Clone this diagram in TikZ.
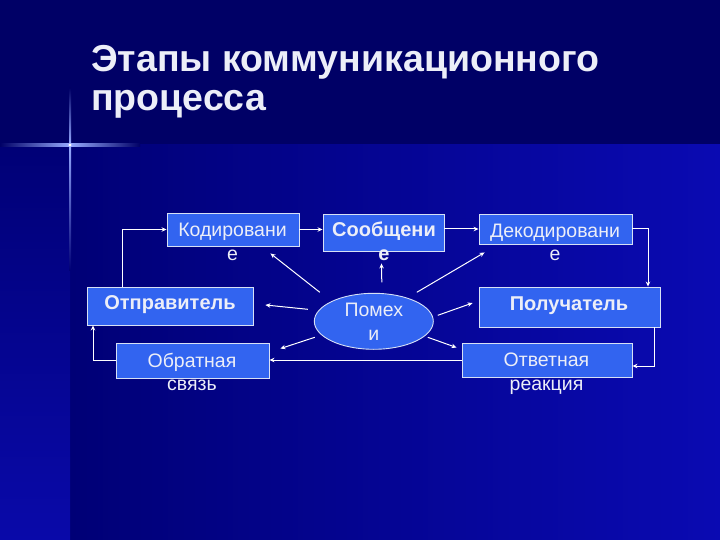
\documentclass[tikz,border=0pt]{standalone}
\usepackage{fontspec}
\setmainfont{Liberation Sans}
\usetikzlibrary{shapes.geometric, arrows.meta, positioning}

\definecolor{topnavy}{RGB}{0,0,102}
\definecolor{lowdark}{RGB}{0,0,118}
\definecolor{lowbright}{RGB}{10,10,178}
\definecolor{boxblue}{RGB}{50,100,240}
\definecolor{boxline}{RGB}{215,225,245}
\definecolor{textwhite}{RGB}{236,238,248}
\definecolor{glow}{RGB}{150,170,255}

\begin{document}
\begin{tikzpicture}[
        x=1pt, y=-1pt,
        box/.style={draw=boxline, fill=boxblue, line width=0.9pt, rectangle, inner sep=0pt},
        noise/.style={draw=boxline, fill=boxblue, line width=0.9pt, ellipse, inner sep=0pt, minimum width=119pt, minimum height=56pt},
        lbl/.style={text=textwhite, align=center, inner sep=0pt, font=\fontsize{19.5}{23.5}\selectfont},
        lblbold/.style={lbl, font=\fontsize{20}{23.5}\selectfont\bfseries},
        title/.style={text=textwhite, align=left, inner sep=0pt, font=\fontsize{37.5}{38.5}\selectfont\bfseries},
        arrow/.style={-{Stealth[length=5pt, width=4.5pt]}, line width=1pt, draw=white}
    ]
        \useasboundingbox (0,0) rectangle (720,540);

        % 1. Fundo
        \fill[topnavy] (0,0) rectangle (720,145);
        \shade[left color=lowdark, right color=lowbright] (70,145) rectangle (720,540);
        \shade[top color=lowdark, bottom color=lowbright!95!black] (0,145) rectangle (70,540);
        \shade[left color=topnavy, right color=topnavy, middle color=glow] (0,144) rectangle (140,146.5);
        \shade[top color=topnavy, bottom color=glow] (69,88) rectangle (71.2,145);
        \shade[top color=glow, bottom color=lowdark] (69,145) rectangle (71.2,270);
        \fill[white] (70,145) circle (1.6);

        % 2. Titulo (a ancora base fica na ultima linha)
        \node[title, anchor=base west] (title) at (91,110.2) {Этапы коммуникационного\\процесса};

        % 3. Caixas
        \node[box, minimum width=132pt, minimum height=33pt] (kod) at (233,229.5) {};
        \node[box, minimum width=121pt, minimum height=37pt] (soob) at (383.5,232.5) {};
        \node[box, minimum width=153pt, minimum height=30pt] (dekod) at (555.5,229) {};
        \node[box, minimum width=166pt, minimum height=38pt] (otpr) at (170,306) {};
        \node[box, minimum width=181pt, minimum height=40pt] (polu) at (569.5,307) {};
        \node[box, minimum width=153pt, minimum height=35pt] (obr) at (192.5,360.5) {};
        \node[box, minimum width=170pt, minimum height=34pt] (otv) at (547,360) {};
        \node[noise] (pom) at (373.8,321.3) {};

        % Textos (a palavra continua abaixo da caixa)
        \node[lbl, anchor=base] (kodtxt) at ([shift={(-0.5,30.5)}]kod.center) {Кодировани\\е};
        \node[lblbold, anchor=base] (soobtxt) at ([shift={(0.5,27.5)}]soob.center) {Сообщени\\е};
        \node[lbl, anchor=base] (dekodtxt) at ([shift={(-0.5,31.5)}]dekod.center) {Декодировани\\е};
        \node[lblbold, anchor=base] (otprtxt) at ([shift={(0,3)}]otpr.center) {Отправитель};
        \node[lblbold, anchor=base] (polutxt) at ([shift={(-0.5,3)}]polu.center) {Получатель};
        \node[lbl, anchor=base] (obrtxt) at ([shift={(-0.5,30)}]obr.center) {Обратная\\связь};
        \node[lbl, anchor=base] (otvtxt) at ([shift={(-0.5,30)}]otv.center) {Ответная\\реакция};
        \node[lbl, anchor=base] (pomtxt) at ([shift={(0,19)}]pom.center) {Помех\\и};

        % 4. Ciclo principal
        \draw[arrow] ([shift={(-48,0)}]otpr.north) |- (kod.west);
        \draw[arrow] (kod.east) -- (kod.east -| soob.west);
        \draw[arrow] (dekod.west -| soob.east) -- (dekod.west);
        \draw[arrow] (dekod.east) -| ([shift={(78.5,0)}]polu.north);
        \draw[arrow] ([shift={(84.5,0)}]polu.south) |- ([shift={(0,6)}]otv.east);
        \draw[arrow] (otv.west) -- (otv.west -| obr.east);
        \draw[arrow] (obr.west) -| ([shift={(-77,0)}]otpr.south);

        % 5. Ruido sobre cada etapa
        \draw[arrow] ([shift={(-54,-29)}]pom.center) -- ([shift={(-29,7)}]kod.south east);
        \draw[arrow] ([shift={(-66,-12)}]pom.center) -- ([shift={(12,-1)}]otpr.east);
        \draw[arrow] ([shift={(-59,16)}]pom.center) -- ([shift={(11,6)}]obr.north east);
        \draw[arrow] ([shift={(8,-39)}]pom.center) -- ([shift={(-2,12)}]soob.south);
        \draw[arrow] ([shift={(43,-29)}]pom.center) -- ([shift={(6,8)}]dekod.south west);
        \draw[arrow] ([shift={(64,-6)}]pom.center) -- ([shift={(-6,-4)}]polu.west);
        \draw[arrow] ([shift={(54,16)}]pom.center) -- ([shift={(-5,5)}]otv.north west);

    \end{tikzpicture}
\end{document}
